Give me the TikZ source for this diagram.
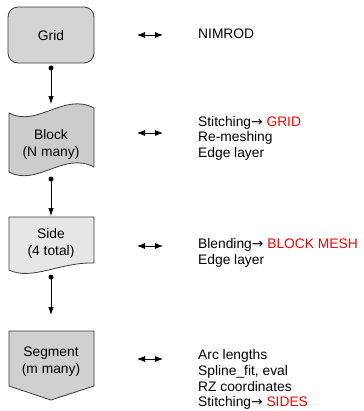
\documentclass[tikz,border=0pt]{standalone}
\usepackage{fontspec}
\setmainfont{Liberation Sans}
\newfontfamily\arrowfont{DejaVu Sans}
\usetikzlibrary{arrows.meta}
\definecolor{boxline}{HTML}{3A3A3A}
\definecolor{gridfill}{HTML}{D4D4D4}
\definecolor{blockfill}{HTML}{CCCCCC}
\definecolor{sidefill}{HTML}{E6E6E6}
\definecolor{segfill}{HTML}{D0D0D0}
\definecolor{hot}{HTML}{FF0000}
\newcommand{\goesto}{{\arrowfont →}}
\begin{document}
\begin{tikzpicture}[x=1bp,y=-1bp,
  shapebox/.style={draw=boxline, line width=0.8bp},
  boxtext/.style={font=\fontsize{13.8bp}{17bp}\selectfont, align=center, inner sep=0pt, anchor=base},
  notetext/.style={font=\fontsize{13.8bp}{15.8bp}\selectfont, align=left, anchor=base west, inner sep=0pt},
  link/.style={line width=0.8bp, -{Latex[length=8bp,width=5.5bp]}},
  tie/.style={line width=0.8bp, {Latex[length=8bp,width=6bp]}-{Latex[length=8bp,width=6bp]}},
  joint/.style={circle, fill=black, inner sep=0pt, minimum size=5bp}]
\useasboundingbox (0,0) rectangle (364,411);

% process boxes
\draw[shapebox, fill=gridfill, rounded corners=10bp] (8,7) rectangle (94,63);
\draw[shapebox, fill=blockfill] (9,113) .. controls (37,128) and (64,92) .. (94,108)
  -- (94,167) .. controls (64,151) and (37,187) .. (9,172) -- cycle;
\draw[shapebox, fill=sidefill] (9,217) -- (94,217) -- (94,263)
  .. controls (60,262) and (32,281) .. (9,270) -- cycle;
\draw[shapebox, fill=segfill] (9,331) -- (94,331) -- (94,386) -- (51,400) -- (9,386) -- cycle;

% box labels (base anchor sits on the last line)
\node[boxtext] (grid) at (51,40) {Grid};
\node[boxtext] (block) at (51,156) {Block\\(N many)};
\node[boxtext] (side) at (51,255) {Side\\(4 total)};
\node[boxtext] (segment) at (51,373) {Segment\\(m many)};

% downward links
\node[joint] (d1) at (51,68) {};
\node[joint] (d2) at (51,179) {};
\node[joint] (d3) at (51,277) {};
\coordinate (t1) at (51,104);
\coordinate (t2) at (51,216);
\coordinate (t3) at (51,315);
\draw[link] (d1.center) -- (t1);
\draw[link] (d2.center) -- (t2);
\draw[link] (d3.center) -- (t3);

% two-way ties
\coordinate (l1) at (137,35);  \coordinate (r1) at (163,35);
\coordinate (l2) at (137,133); \coordinate (r2) at (163,133);
\coordinate (l3) at (137,246); \coordinate (r3) at (163,246);
\coordinate (l4) at (137,359); \coordinate (r4) at (163,359);
\draw[tie] (l1) -- (r1);
\draw[tie] (l2) -- (r2);
\draw[tie] (l3) -- (r3);
\draw[tie] (l4) -- (r4);

% notes (base anchor sits on the last line)
\node[notetext] (n1) at (198,38) {NIMROD};
\node[notetext] (n2) at (198,157.6) {Stitching\goesto{} \textcolor{hot}{GRID}\\Re-meshing\\Edge layer};
\node[notetext] (n3) at (198,264.3) {Blending\goesto{} \textcolor{hot}{BLOCK MESH}\\Edge layer};
\node[notetext] (n4) at (198,406.9) {Arc lengths\\Spline\_fit, eval\\RZ coordinates\\Stitching\goesto{} \textcolor{hot}{SIDES}};
\end{tikzpicture}
\end{document}
